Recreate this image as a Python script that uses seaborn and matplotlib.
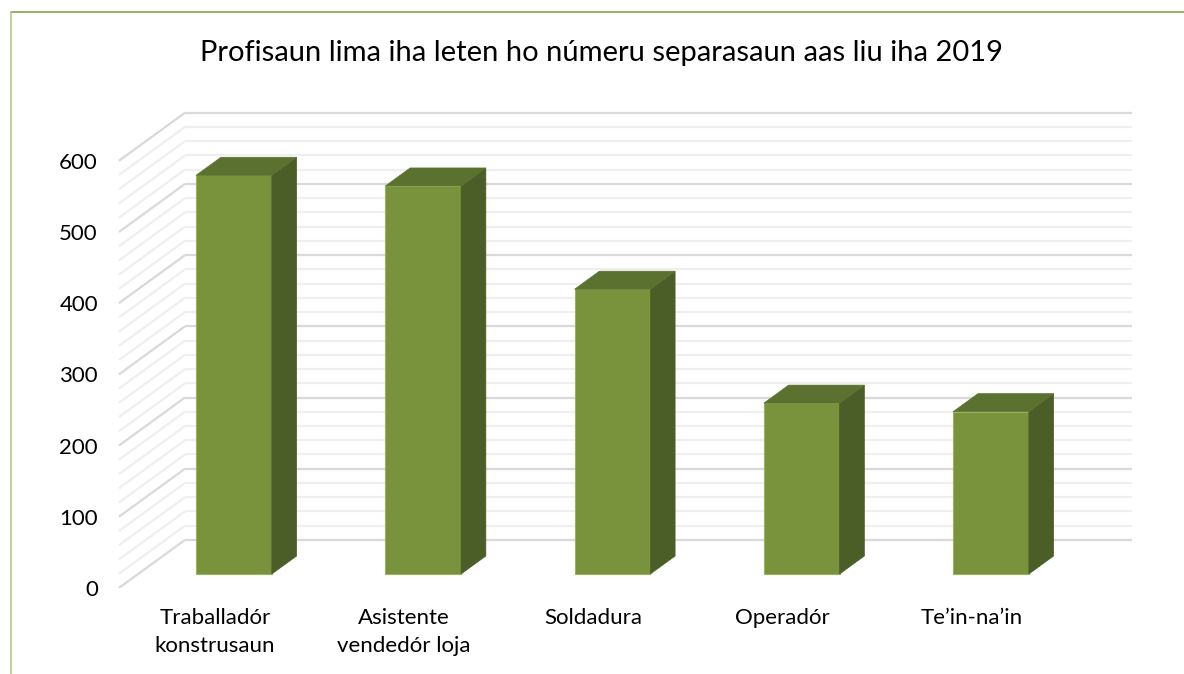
import matplotlib
matplotlib.use("Agg")
import matplotlib.pyplot as plt
from matplotlib.patches import Polygon
from matplotlib.lines import Line2D
import seaborn as sns
import pandas as pd

# ---- data ----
categories = ["Traballadór\nkonstrusaun", "Asistente\nvendedór loja", "Soldadura", "Operadór", "Te’in-na’in"]
values = [560, 545, 400, 240, 228]
ytick_values = [0, 100, 200, 300, 400, 500, 600]
grid_step = 20
title = "Profisaun lima iha leten ho númeru separasaun aas liu iha 2019"

# ---- style ----
sns.set_theme(style="white")
plt.rcParams['font.family'] = ['Lato', 'DejaVu Sans']

FRONT = "#78933c"
TOP = "#5b7130"
SIDE = "#4b5e27"
EDGE = "#9ab35f"
MAJOR = "#d9d9d9"
MINOR = "#efefef"

W, H = 1184, 674
fig = plt.figure(figsize=(W / 100, H / 100), dpi=100)
L, R, T, B = 100, 1165, 80, 600
ax = fig.add_axes([L / W, 1 - B / H, (R - L) / W, (B - T) / H])

X0, XS = 234, 189.25   # pixel of first category, pixels per category
Y0, YS = 574, 0.712    # pixel of value 0 on bar front plane, pixels per unit

DX = 66 / XS           # depth offset (per unit depth) in category units
DY = 48 / YS           # depth offset in value units
t0 = 0.29              # depth of bar front plane
tb = 0.375             # bar depth
xl = (119 + 66 * t0 - X0) / XS
xr = (1132 - 66 * (1 - t0) - X0) / XS

df = pd.DataFrame({"cat": categories, "val": values})
sns.barplot(data=df, x="cat", y="val", order=categories, width=0.4, color=FRONT,
            saturation=1, edgecolor=EDGE, linewidth=0.8, ax=ax, zorder=3)

# grid on side and back walls
top_val = max(ytick_values)
for g in range(0, top_val + 1, grid_step):
    major = g % 100 == 0
    c = MAJOR if major else MINOR
    d0, d1 = -t0, 1 - t0
    ax.plot([xl + d0 * DX, xl + d1 * DX], [g + d0 * DY, g + d1 * DY],
            color=c, lw=1.6, zorder=1 if not major else 1.5, solid_capstyle="butt")
    ax.plot([xl + d1 * DX, xr + d1 * DX], [g + d1 * DY, g + d1 * DY],
            color=c, lw=1.6, zorder=1 if not major else 1.5, solid_capstyle="butt")

# 3D faces
hw = 0.2
ddx, ddy = tb * DX, tb * DY
for i, v in enumerate(values):
    side = [(i + hw, 0), (i + hw + ddx, ddy), (i + hw + ddx, v + ddy), (i + hw, v)]
    top = [(i - hw, v), (i + hw, v), (i + hw + ddx, v + ddy), (i - hw + ddx, v + ddy)]
    ax.add_patch(Polygon(side, closed=True, facecolor=SIDE, edgecolor=SIDE, lw=0.5, zorder=3))
    ax.add_patch(Polygon(top, closed=True, facecolor=TOP, edgecolor=TOP, lw=0.5, zorder=3))

ax.set_xlim((L - X0) / XS, (R - X0) / XS)
ax.set_ylim((Y0 - B) / YS, (Y0 - T) / YS)

ax.set_xticks([i - t0 * DX for i in range(len(categories))])
ax.set_xticklabels(categories, fontsize=16, color="#000000", linespacing=1.5)
ax.set_yticks([g - t0 * DY for g in ytick_values])
ax.set_yticklabels([str(g) for g in ytick_values], fontsize=16, color="#000000")
ax.tick_params(axis="x", length=0, pad=6)
ax.tick_params(axis="y", length=0, pad=1.5)
ax.set_xlabel("")
ax.set_ylabel("")
for s in ax.spines.values():
    s.set_visible(False)
ax.patch.set_alpha(0)

fig.text(602 / W, 1 - 53 / H, title, ha="center", va="center", fontsize=21, color="#000000")

fig.add_artist(Line2D([11 / W, 1], [1 - 12 / H, 1 - 12 / H], transform=fig.transFigure,
                      color="#86a44a", lw=1.2))
fig.add_artist(Line2D([11 / W, 11 / W], [1 - 12 / H, 0], transform=fig.transFigure,
                      color="#b3c98a", lw=1.2))

fig.savefig("out.png", dpi=100, facecolor="white")
